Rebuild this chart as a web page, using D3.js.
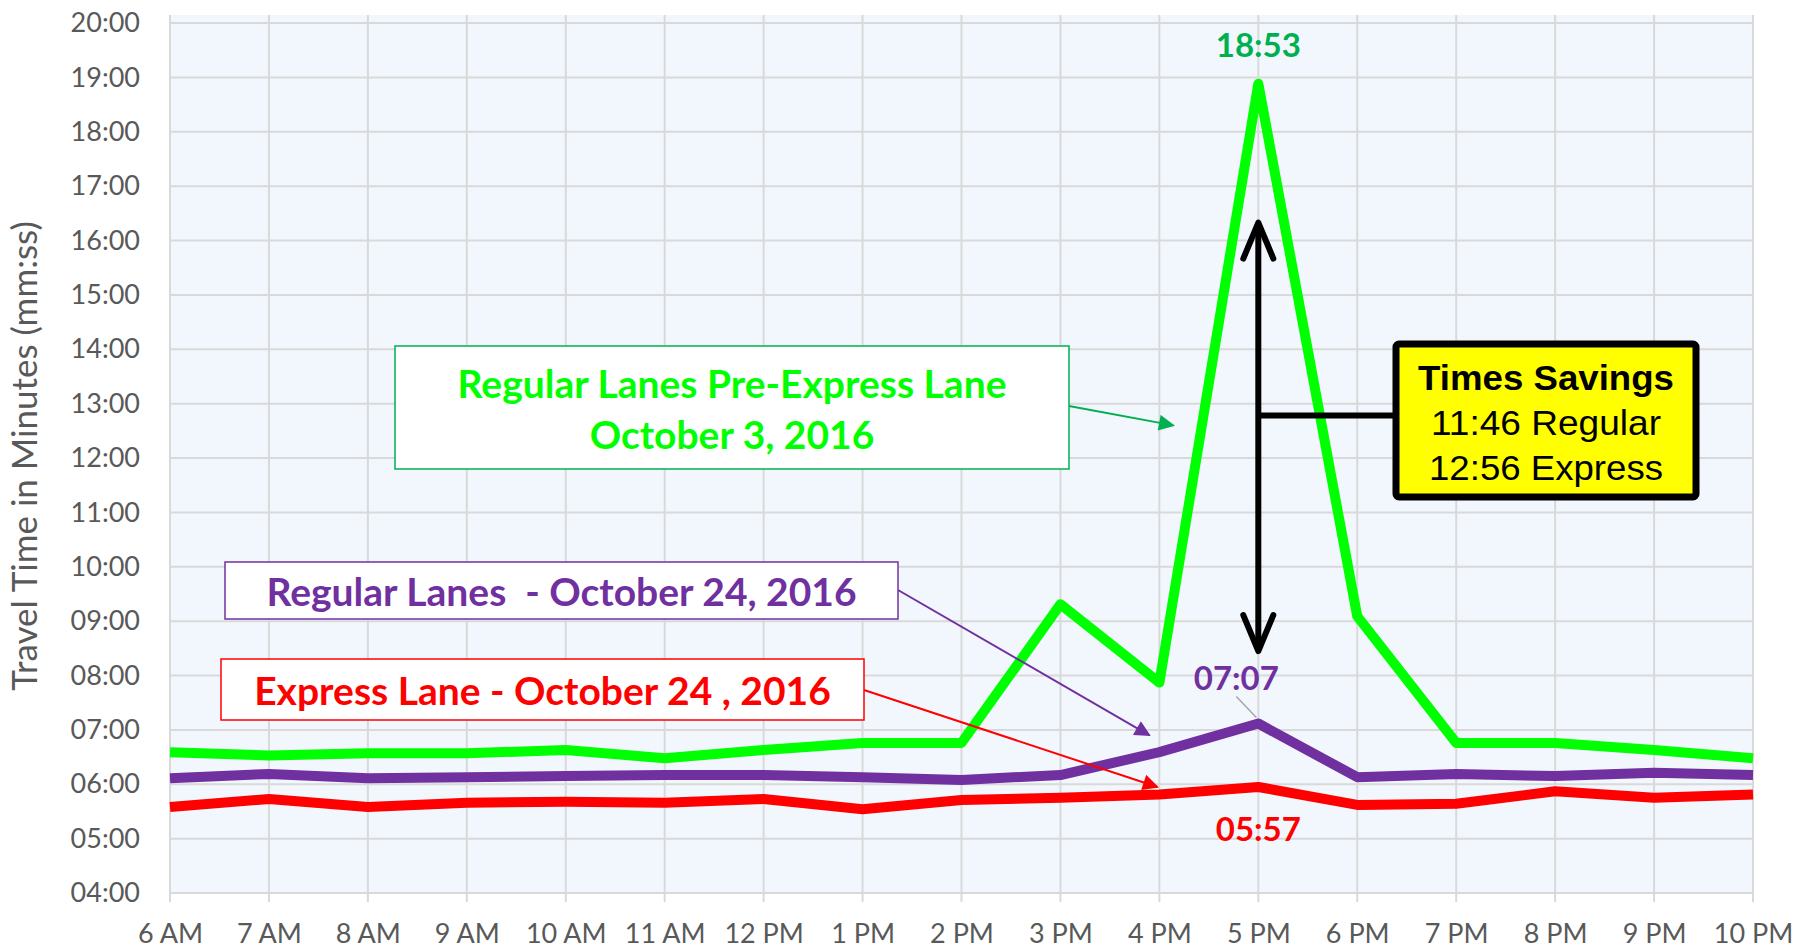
<!DOCTYPE html>
<html>
<head>
<meta charset="utf-8">
<script src="https://cdn.jsdelivr.net/npm/d3@7"></script>
<style>
  body { margin: 0; background: #fff; }
  svg { display: block; }
</style>
</head>
<body>
<svg id="chart" width="1795" height="948"></svg>
<script>
// hours on the x axis
const hours = ["6 AM", "7 AM", "8 AM", "9 AM", "10 AM", "11 AM", "12 PM", "1 PM", "2 PM",
               "3 PM", "4 PM", "5 PM", "6 PM", "7 PM", "8 PM", "9 PM", "10 PM"];

// travel times in minutes
const preExpress = [6.59, 6.53, 6.57, 6.57, 6.63, 6.48, 6.63, 6.76, 6.76,
                    9.31, 7.87, 18.883, 9.09, 6.76, 6.76, 6.63, 6.48];
const regular24 = [6.11, 6.19, 6.11, 6.13, 6.15, 6.17, 6.17, 6.13, 6.08,
                   6.17, 6.59, 7.117, 6.13, 6.19, 6.15, 6.21, 6.17];
const express24 = [5.58, 5.73, 5.58, 5.66, 5.68, 5.66, 5.73, 5.54, 5.71,
                   5.75, 5.81, 5.95, 5.62, 5.64, 5.87, 5.75, 5.81];

const yTicks = d3.range(4, 21, 1);

const svg = d3.select("#chart");
const pLeft = 170, pRight = 1753, pTop = 23, pBottom = 893;

const x = d3.scalePoint().domain(hours).range([pLeft, pRight]);
const y = d3.scaleLinear().domain([4, 20]).range([pBottom, pTop]);

const fmt = m => String(Math.floor(m)).padStart(2, "0") + ":" +
                 String(Math.round((m % 1) * 60)).padStart(2, "0");

// plot background
svg.append("rect")
    .attr("x", pLeft).attr("y", pTop - 8)
    .attr("width", pRight - pLeft).attr("height", pBottom - pTop + 8)
    .attr("fill", "#f2f7fd");

// gridlines
svg.append("g")
    .selectAll("line")
    .data(yTicks)
    .join("line")
        .attr("x1", pLeft).attr("x2", pRight)
        .attr("y1", d => y(d)).attr("y2", d => y(d))
        .attr("stroke", "#d9d9d9").attr("stroke-width", 2);

svg.append("g")
    .selectAll("line")
    .data(hours)
    .join("line")
        .attr("x1", d => x(d)).attr("x2", d => x(d))
        .attr("y1", pTop - 8).attr("y2", pBottom + 9)
        .attr("stroke", "#d9d9d9").attr("stroke-width", 2);

// axes
const yAxis = svg.append("g")
    .attr("transform", `translate(${pLeft},0)`)
    .call(d3.axisLeft(y).tickValues(yTicks).tickFormat(fmt).tickSize(0).tickPadding(30));
yAxis.select(".domain").remove();
yAxis.selectAll("text")
    .attr("font-family", "Lato, sans-serif")
    .attr("font-size", 27)
    .attr("fill", "#595959");

const xAxis = svg.append("g")
    .attr("transform", `translate(0,${pBottom})`)
    .call(d3.axisBottom(x).tickSize(0).tickPadding(31));
xAxis.select(".domain").remove();
xAxis.selectAll("text")
    .attr("font-family", "Lato, sans-serif")
    .attr("font-size", 27)
    .attr("fill", "#595959");

svg.append("text")
    .attr("transform", `translate(37,456) rotate(-90)`)
    .attr("text-anchor", "middle")
    .attr("font-family", "Lato, sans-serif")
    .attr("font-size", 35)
    .attr("fill", "#595959")
    .text("Travel Time in Minutes (mm:ss)");

// series lines
const line = d3.line()
    .x((d, i) => x(hours[i]))
    .y(d => y(d));

const series = [
    { values: express24, color: "#ff0000" },
    { values: regular24, color: "#7030a0" },
    { values: preExpress, color: "#00ff00" }
];

svg.append("g")
    .selectAll("path")
    .data(series)
    .join("path")
        .attr("d", d => line(d.values))
        .attr("fill", "none")
        .attr("stroke", d => d.color)
        .attr("stroke-width", 10)
        .attr("stroke-linejoin", "round");

// markers for callout arrows
const defs = svg.append("defs");
[["g", "#00b050"], ["p", "#7030a0"], ["r", "#ff0000"]].forEach(([id, c]) => {
    defs.append("marker")
        .attr("id", "tri-" + id)
        .attr("viewBox", "0 0 10 10")
        .attr("refX", 9).attr("refY", 5)
        .attr("markerWidth", 18).attr("markerHeight", 16)
        .attr("markerUnits", "userSpaceOnUse")
        .attr("orient", "auto")
        .append("path")
            .attr("d", "M0,0 L10,5 L0,10 z")
            .attr("fill", c);
});

// callout boxes
function callout(box, lines, color, border, arrowTo, marker, size)
{
    svg.append("line")
        .attr("x1", box.x + box.w).attr("y1", box.ay)
        .attr("x2", arrowTo[0]).attr("y2", arrowTo[1])
        .attr("stroke", border).attr("stroke-width", 2)
        .attr("marker-end", `url(#${marker})`);
    svg.append("rect")
        .attr("x", box.x).attr("y", box.y)
        .attr("width", box.w).attr("height", box.h)
        .attr("fill", "#fff")
        .attr("stroke", border).attr("stroke-width", 1.5);
    lines.forEach((t, i) => {
        svg.append("text")
            .attr("x", box.x + box.w / 2)
            .attr("y", box.ty + i * 51)
            .attr("text-anchor", "middle")
            .attr("font-family", "Lato, sans-serif")
            .attr("font-weight", "bold")
            .attr("font-size", size)
            .attr("fill", color)
            .style("white-space", "pre")
            .text(t);
    });
}

callout({ x: 395, y: 346, w: 674, h: 123, ay: 406, ty: 398 },
    ["Regular Lanes Pre-Express Lane", "October 3, 2016"],
    "#00ff00", "#00b050", [x("4 PM") + 14, y(12.6)], "tri-g", 39);

callout({ x: 225, y: 562, w: 673, h: 57, ay: 590, ty: 606 },
    ["Regular Lanes  - October 24, 2016"],
    "#7030a0", "#7030a0", [x("4 PM") - 10, y(6.9)], "tri-p", 39);

callout({ x: 221, y: 659, w: 643, h: 61, ay: 690, ty: 705 },
    ["Express Lane - October 24 , 2016"],
    "#ff0000", "#ff0000", [x("4 PM") - 2, y(5.95)], "tri-r", 39);

// value labels at 5 PM
const peak = hours.indexOf("5 PM");
svg.append("text")
    .attr("x", x("5 PM")).attr("y", y(preExpress[peak]) - 27)
    .attr("text-anchor", "middle")
    .attr("font-family", "Lato, sans-serif").attr("font-weight", "bold")
    .attr("font-size", 33).attr("fill", "#00b050")
    .text("18:53");

svg.append("line")
    .attr("x1", x("5 PM") - 22).attr("y1", y(regular24[peak]) - 27)
    .attr("x2", x("5 PM") - 2).attr("y2", y(regular24[peak]) - 6)
    .attr("stroke", "#a6a6a6").attr("stroke-width", 1.5);
svg.append("text")
    .attr("x", x("5 PM") - 22).attr("y", y(regular24[peak]) - 34)
    .attr("text-anchor", "middle")
    .attr("font-family", "Lato, sans-serif").attr("font-weight", "bold")
    .attr("font-size", 33).attr("fill", "#7030a0")
    .text("07:07");

svg.append("text")
    .attr("x", x("5 PM")).attr("y", y(express24[peak]) + 54)
    .attr("text-anchor", "middle")
    .attr("font-family", "Lato, sans-serif").attr("font-weight", "bold")
    .attr("font-size", 33).attr("fill", "#ff0000")
    .text("05:57");

// time savings double arrow
const ax = x("5 PM");
const aTop = y(16.33), aBot = y(8.45);
const savings = svg.append("g")
    .attr("stroke", "#000").attr("fill", "none")
    .attr("stroke-width", 6).attr("stroke-linecap", "round").attr("stroke-linejoin", "round");
savings.append("line").attr("x1", ax).attr("x2", ax).attr("y1", aTop + 3).attr("y2", aBot - 3);
savings.append("path").attr("d", `M${ax - 15},${aTop + 36} L${ax},${aTop} L${ax + 15},${aTop + 36}`);
savings.append("path").attr("d", `M${ax - 15},${aBot - 36} L${ax},${aBot} L${ax + 15},${aBot - 36}`);

const boxY = y(12.78);
savings.append("line").attr("x1", ax).attr("x2", 1393).attr("y1", boxY).attr("y2", boxY)
    .attr("stroke-linecap", "butt");

svg.append("rect")
    .attr("x", 1396).attr("y", 344)
    .attr("width", 300).attr("height", 153)
    .attr("rx", 3)
    .attr("fill", "#ffff00")
    .attr("stroke", "#000").attr("stroke-width", 7);

const saveLines = [
    { t: "Times Savings", w: "bold", len: 256 },
    { t: "11:46 Regular", w: "normal", len: 230 },
    { t: "12:56 Express", w: "normal", len: 234 }
];
saveLines.forEach((d, i) => {
    svg.append("text")
        .attr("x", 1546).attr("y", 390 + i * 45)
        .attr("text-anchor", "middle")
        .attr("font-family", "'Liberation Sans', Arial, sans-serif")
        .attr("font-weight", d.w)
        .attr("font-size", 35)
        .attr("textLength", d.len)
        .attr("lengthAdjust", "spacingAndGlyphs")
        .attr("fill", "#000")
        .text(d.t);
});
</script>
</body>
</html>
